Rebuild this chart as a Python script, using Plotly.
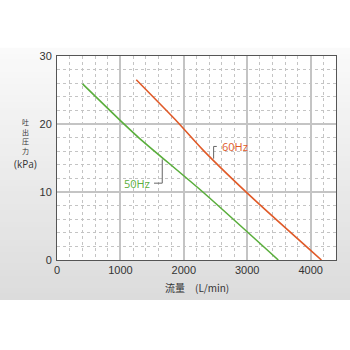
import plotly.graph_objects as go

# Flow (L/min) vs discharge pressure (kPa)
flow_50 = [403, 1000, 1300, 2300, 3490]
press_50 = [25.9, 20.5, 17.9, 10.0, 0.0]
flow_60 = [1250, 1900, 2300, 3120, 4170]
press_60 = [26.5, 20.3, 16.2, 8.8, 0.0]

x_ticks = [0, 1000, 2000, 3000, 4000]
y_ticks = [0, 10, 20, 30]

W, H = 350, 350
ML, MR, MT, MB = 57, 14, 56, 90

fig = go.Figure()
fig.add_trace(go.Scatter(x=flow_50, y=press_50, mode="lines",
                         line=dict(color="#5aae3c", width=1.6, shape="spline", smoothing=0.6),
                         hoverinfo="skip", showlegend=False))
fig.add_trace(go.Scatter(x=flow_60, y=press_60, mode="lines",
                         line=dict(color="#e05a28", width=1.6, shape="spline", smoothing=0.6),
                         hoverinfo="skip", showlegend=False))

# Gray gradient panel behind the chart, built from thin strips (pixel -> paper coords)
def px_to_paper_x(px):
    return (px - ML) / (W - ML - MR)

def px_to_paper_y(py):
    return (H - MB - py) / (H - MT - MB)

shapes = []
top_px, bot_px = 48, 300
n = 42
c0, c1 = 250, 220
for i in range(n):
    y0 = top_px + (bot_px - top_px) * i / n
    y1 = top_px + (bot_px - top_px) * (i + 1) / n
    c = int(round(c0 + (c1 - c0) * (i + 0.5) / n))
    shapes.append(dict(type="rect", xref="paper", yref="paper", layer="below",
                       x0=px_to_paper_x(0), x1=px_to_paper_x(W),
                       y0=px_to_paper_y(y1), y1=px_to_paper_y(y0) + 0.001,
                       fillcolor=f"rgb({c},{c},{c})", line=dict(width=0)))
# White plotting panel
shapes.append(dict(type="rect", xref="x", yref="y", layer="below",
                   x0=0, x1=4400, y0=0, y1=30, fillcolor="white", line=dict(width=0)))

# Leader lines for the series labels
leader = dict(color="#666666", width=1)
shapes.append(dict(type="path", xref="x", yref="y", line=leader,
                   path="M 2470 14.9 L 2470 16.7 L 2520 16.7"))
shapes.append(dict(type="path", xref="x", yref="y", line=leader,
                   path="M 1660 14.8 L 1660 11.3 L 1530 11.3"))

annotations = [
    dict(x=2570, y=16.7, xref="x", yref="y", text="60Hz", showarrow=False,
         xanchor="left", yanchor="middle", font=dict(color="#e05a28", size=11)),
    dict(x=1500, y=11.3, xref="x", yref="y", text="50Hz", showarrow=False,
         xanchor="right", yanchor="middle", font=dict(color="#5aae3c", size=11)),
    dict(x=0.5, y=px_to_paper_y(287), xref="paper", yref="paper",
         text="流量　(L/min)", showarrow=False, xanchor="center", yanchor="middle",
         font=dict(size=10, color="#333333", family="Noto Sans CJK JP")),
    dict(x=px_to_paper_x(25), y=px_to_paper_y(164), xref="paper", yref="paper",
         text="(kPa)", showarrow=False, xanchor="center", yanchor="middle", borderpad=0,
         font=dict(size=10, color="#333333")),
]

# Vertical axis title, one character per row
title_chars = ["吐", "出", "圧", "力"]
title_rows = [122, 131.5, 141, 150.5]
for ch, row in zip(title_chars, title_rows):
    annotations.append(dict(x=px_to_paper_x(25), y=px_to_paper_y(row), xref="paper",
                            yref="paper", text=ch, showarrow=False, xanchor="center",
                            yanchor="middle", borderpad=0,
                            font=dict(size=7, color="#333333", family="Noto Sans CJK JP")))

axis_common = dict(showline=True, linecolor="#555555", linewidth=1, mirror=True,
                   ticks="", zeroline=False, gridcolor="#c4c4c4", gridwidth=1.5,
                   tickfont=dict(size=11, color="#333333", family="Liberation Sans"))

fig.update_layout(
    width=W, height=H,
    margin=dict(l=ML, r=MR, t=MT, b=MB),
    paper_bgcolor="white", plot_bgcolor="rgba(0,0,0,0)",
    shapes=shapes, annotations=annotations,
    xaxis=dict(range=[0, 4400], tickvals=x_ticks, ticktext=[str(v) for v in x_ticks],
               minor=dict(dtick=200, tick0=0, showgrid=True, gridcolor="#c4c4c4",
                          griddash="dot", gridwidth=1),
               **axis_common),
    yaxis=dict(range=[0, 30], tickvals=y_ticks, ticktext=[str(v) for v in y_ticks],
               ticklabelstandoff=2,
               minor=dict(dtick=2, tick0=0, showgrid=True, gridcolor="#c4c4c4",
                          griddash="dot", gridwidth=1),
               **axis_common),
)

fig.write_html("out.html")
